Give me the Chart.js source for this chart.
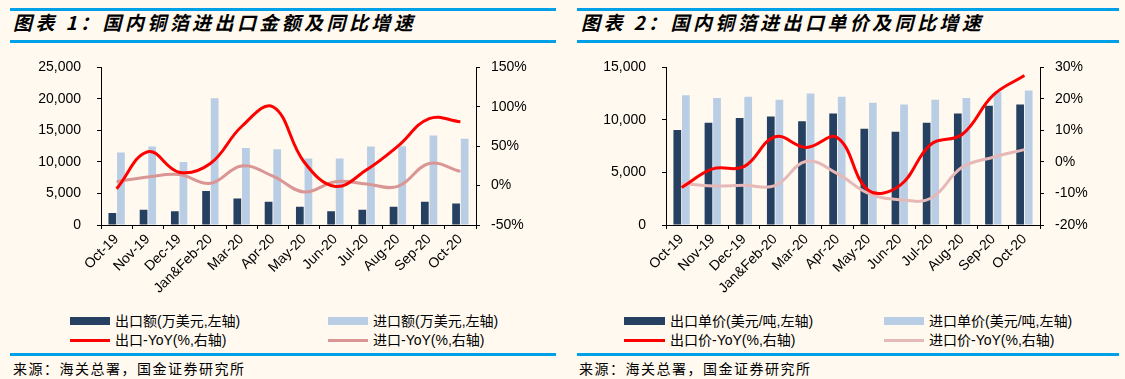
<!DOCTYPE html>
<html>
<head>
<meta charset="utf-8">
<script src="https://cdn.jsdelivr.net/npm/chart.js@4.4.0/dist/chart.umd.min.js"></script>
<style>
    body {
        margin: 0;
        width: 1125px;
        height: 379px;
        background: #FFF9EF;
        position: relative;
        overflow: hidden;
        font-family: "Liberation Sans", Arial, "Noto Sans CJK SC", sans-serif;
        color: #000;
    }
    .rule { position: absolute; height: 3px; background: #00A0E9; }
    .title {
        position: absolute;
        font-family: "Noto Sans CJK SC", sans-serif;
        font-weight: bold;
        font-style: italic;
        font-size: 19px;
        line-height: 20px;
        letter-spacing: 3.4px;
        white-space: nowrap;
    }
    .source {
        position: absolute;
        font-family: "Noto Sans CJK SC", sans-serif;
        font-size: 14px;
        line-height: 16px;
        letter-spacing: 1.5px;
        white-space: nowrap;
    }
    .chart-box { position: absolute; top: 43px; }
    .legend-item {
        position: absolute;
        font-size: 14px;
        line-height: 16px;
        white-space: nowrap;
    }
    .swatch { position: absolute; }
</style>
</head>
<body>
    <!-- left panel -->
    <div class="rule" style="left:10px; width:546px; top:8px;"></div>
    <div class="title" style="left:13px; top:12px;">图表 1：国内铜箔进出口金额及同比增速</div>
    <div class="rule" style="left:10px; width:546px; top:40px;"></div>
    <div class="chart-box" style="left:0;"><canvas id="chart1" width="560" height="262"></canvas></div>
    <div id="legend1"></div>
    <div class="rule" style="left:10px; width:546px; top:353px;"></div>
    <div class="source" style="left:13px; top:360px;">来源：海关总署，国金证券研究所</div>

    <!-- right panel -->
    <div class="rule" style="left:577px; width:542px; top:8px;"></div>
    <div class="title" style="left:581px; top:12px;">图表 2：国内铜箔进出口单价及同比增速</div>
    <div class="rule" style="left:577px; width:542px; top:40px;"></div>
    <div class="chart-box" style="left:565px;"><canvas id="chart2" width="560" height="262"></canvas></div>
    <div id="legend2"></div>
    <div class="rule" style="left:577px; width:542px; top:353px;"></div>
    <div class="source" style="left:579px; top:360px;">来源：海关总署，国金证券研究所</div>

<script>
const categories = ['Oct-19', 'Nov-19', 'Dec-19', 'Jan&Feb-20', 'Mar-20', 'Apr-20', 'May-20', 'Jun-20', 'Jul-20', 'Aug-20', 'Sep-20', 'Oct-20'];

// chart 1: 金额 (万美元) and YoY (%)
const exportValue = [1900, 2400, 2200, 5400, 4200, 3700, 2900, 2200, 2400, 2900, 3700, 3400];
const importValue = [11500, 12450, 10000, 20100, 12200, 12000, 10550, 10550, 12450, 12500, 14200, 13700];
const exportValueYoY = [-4, 43, 17, 28, 75, 100, 30, -1, 20, 50, 85, 81];
const importValueYoY = [5, 11, 14, 3, 25, 12, -8, 5, 2, -1, 28, 18];

// chart 2: 单价 (美元/吨) and YoY (%)
const exportPrice = [9030, 9740, 10180, 10330, 9870, 10610, 9150, 8870, 9740, 10610, 11360, 11480];
const importPrice = [12360, 12080, 12200, 11920, 12510, 12200, 11640, 11480, 11920, 12080, 12670, 12790];
const exportPriceYoY = [-8.1, -2.2, -1.5, 8, 4.6, 7.7, -9, -7.5, 5.6, 8.7, 21.2, 27.4];
const importPriceYoY = [-6.8, -7.6, -7.4, -7.5, 0.2, -3.7, -10, -12, -11.5, -1.7, 1.5, 3.9];

const DARK = '#254061';
const LIGHT = '#B9CDE5';
const RED = '#FF0000';

const tickFont = { family: '"Liberation Sans", Arial, sans-serif', size: 14 };

function axisGrid() {
    return { drawOnChartArea: false, drawTicks: true, tickLength: 4, color: '#000', lineWidth: 1 };
}

function buildChart(canvasId, opts) {
    return new Chart(document.getElementById(canvasId), {
        data: {
            labels: categories,
            datasets: [
                { type: 'line', data: opts.redLine, borderColor: RED, borderWidth: 3, pointRadius: 0, tension: 0.4, yAxisID: 'yR', order: 0 },
                { type: 'line', data: opts.pinkLine, borderColor: opts.pinkColor, borderWidth: 3, pointRadius: 0, tension: 0.4, yAxisID: 'yR', order: 1 },
                { type: 'bar', data: opts.darkBars, backgroundColor: DARK, yAxisID: 'yL', order: 2, categoryPercentage: 0.55, barPercentage: 0.9 },
                { type: 'bar', data: opts.lightBars, backgroundColor: LIGHT, yAxisID: 'yL', order: 3, categoryPercentage: 0.55, barPercentage: 0.9 }
            ]
        },
        options: {
            responsive: false,
            animation: false,
            layout: { padding: { top: 10, left: 0, right: 0, bottom: 0 } },
            plugins: { legend: { display: false }, tooltip: { enabled: false } },
            scales: {
                x: {
                    offset: true,
                    grid: Object.assign(axisGrid(), { offset: true }),
                    border: { display: true, color: '#000', width: 1 },
                    ticks: { color: '#000', font: tickFont, autoSkip: false, maxRotation: 45, minRotation: 45, padding: 2 },
                    afterFit: (scale) => { scale.height = 80; }
                },
                yL: {
                    position: 'left',
                    min: opts.leftMin, max: opts.leftMax,
                    grid: axisGrid(),
                    border: { display: true, color: '#000', width: 1 },
                    ticks: {
                        stepSize: opts.leftStep, color: '#000', font: tickFont, padding: 16,
                        callback: (v) => v.toLocaleString('en-US')
                    },
                    afterFit: (scale) => { scale.width = 101; }
                },
                yR: {
                    position: 'right',
                    min: opts.rightMin, max: opts.rightMax,
                    grid: axisGrid(),
                    border: { display: true, color: '#000', width: 1 },
                    ticks: {
                        stepSize: opts.rightStep, color: '#000', font: tickFont, padding: 11,
                        callback: (v) => v + '%'
                    },
                    afterFit: (scale) => { scale.width = opts.rightWidth; }
                }
            }
        }
    });
}

function buildLegend(containerId, items) {
    const box = document.getElementById(containerId);
    items.forEach(item => {
        const sw = document.createElement('div');
        sw.className = 'swatch';
        sw.style.left = item.x + 'px';
        sw.style.width = item.w + 'px';
        sw.style.background = item.color;
        if (item.kind === 'bar') {
            sw.style.top = (item.y - 4) + 'px';
            sw.style.height = '8px';
        } else {
            sw.style.top = (item.y - 1) + 'px';
            sw.style.height = '3px';
        }
        box.appendChild(sw);
        const tx = document.createElement('div');
        tx.className = 'legend-item';
        tx.style.left = (item.x + item.w + 5) + 'px';
        tx.style.top = (item.y - 8) + 'px';
        tx.textContent = item.label;
        box.appendChild(tx);
    });
}

buildChart('chart1', {
    darkBars: exportValue, lightBars: importValue,
    redLine: exportValueYoY, pinkLine: importValueYoY, pinkColor: '#D99694',
    leftMin: 0, leftMax: 25000, leftStep: 5000,
    rightMin: -50, rightMax: 150, rightStep: 50, rightWidth: 84
});

buildChart('chart2', {
    darkBars: exportPrice, lightBars: importPrice,
    redLine: exportPriceYoY, pinkLine: importPriceYoY, pinkColor: '#E6B9B8',
    leftMin: 0, leftMax: 15000, leftStep: 5000,
    rightMin: -20, rightMax: 30, rightStep: 10, rightWidth: 85
});

buildLegend('legend1', [
    { kind: 'bar', color: DARK, x: 70, y: 321, w: 40, label: '出口额(万美元,左轴)' },
    { kind: 'bar', color: LIGHT, x: 328, y: 321, w: 40, label: '进口额(万美元,左轴)' },
    { kind: 'line', color: RED, x: 70, y: 340, w: 40, label: '出口-YoY(%,右轴)' },
    { kind: 'line', color: '#D99694', x: 328, y: 340, w: 40, label: '进口-YoY(%,右轴)' }
]);

buildLegend('legend2', [
    { kind: 'bar', color: DARK, x: 624, y: 321, w: 41, label: '出口单价(美元/吨,左轴)' },
    { kind: 'bar', color: LIGHT, x: 884, y: 321, w: 40, label: '进口单价(美元/吨,左轴)' },
    { kind: 'line', color: RED, x: 624, y: 340, w: 41, label: '出口价-YoY(%,右轴)' },
    { kind: 'line', color: '#E6B9B8', x: 884, y: 340, w: 40, label: '进口价-YoY(%,右轴)' }
]);
</script>
</body>
</html>
